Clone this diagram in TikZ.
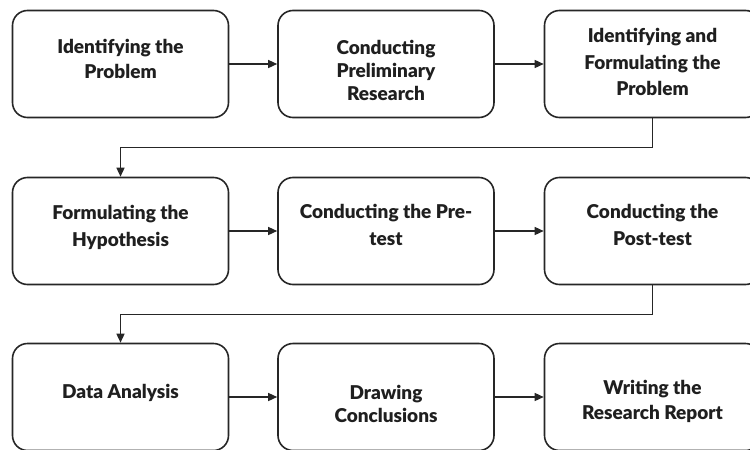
\documentclass[tikz,border=0pt]{standalone}
\usepackage{fontspec}
\setmainfont{Lato}[UprightFont=* Bold]
\usetikzlibrary{arrows.meta,positioning}
\tikzset{
  stepbox/.style={draw=black!85, line width=1.6pt, rounded corners=15pt, minimum width=216pt, minimum height=107pt, inner sep=0pt},
  steptext/.style={align=center, font=\fontsize{19}{25.5}\selectfont\bfseries, text=black!88, inner sep=0pt, text depth=12pt},
  flow/.style={line width=1.4pt, draw=black!85, -{Triangle[length=9pt,width=8pt]}}
}
\begin{document}
\begin{tikzpicture}[x=1pt,y=-1pt]
\useasboundingbox (0,0) rectangle (750,450);
\clip (0,0) rectangle (750,450);
\node[stepbox] (b1) at (120.5,64) {};
\node[stepbox] (b2) at (386,64) {};
\node[stepbox] (b3) at (652.5,64) {};
\node[stepbox] (b4) at (120.5,231) {};
\node[stepbox] (b5) at (386,231) {};
\node[stepbox] (b6) at (652.5,231) {};
\node[stepbox] (b7) at (120.5,397) {};
\node[stepbox] (b8) at (386,397) {};
\node[stepbox] (b9) at (652.5,397) {};
\node[steptext] (t1) at ([yshift=-1pt]b1.center) {Identifying the\\Problem};
\node[steptext, font=\fontsize{19}{23}\selectfont\bfseries] (t2) at ([yshift=-12pt]b2.center) {Conducting\\Preliminary\\Research};
\node[steptext, font=\fontsize{19}{26.5}\selectfont\bfseries] (t3) at ([yshift=-4pt]b3.center) {Identifying and\\Formulating the\\Problem};
\node[steptext, font=\fontsize{19}{27}\selectfont\bfseries] (t4) at ([yshift=-1pt]b4.center) {Formulating the\\Hypothesis};
\node[steptext, font=\fontsize{19}{27}\selectfont\bfseries] (t5) at ([yshift=0pt]b5.center) {Conducting the Pre-\\test};
\node[steptext, font=\fontsize{19}{27}\selectfont\bfseries] (t6) at ([yshift=0pt]b6.center) {Conducting the\\Post-test};
\node[steptext] (t7) at (b7.center) {Data Analysis};
\node[steptext, font=\fontsize{19}{23}\selectfont\bfseries] (t8) at ([yshift=-13pt]b8.center) {Drawing\\Conclusions};
\node[steptext] (t9) at ([yshift=-9pt]b9.center) {Writing the\\Research Report};
\draw[flow] (b1) -- (b2);
\draw[flow] (b2) -- (b3);
\draw[flow] (b4) -- (b5);
\draw[flow] (b5) -- (b6);
\draw[flow] (b7) -- (b8);
\draw[flow] (b8) -- (b9);
\draw[flow] (b3.south) -- ++(0,29) -| (b4.north);
\draw[flow] (b6.south) -- ++(0,29) -| (b7.north);
\end{tikzpicture}
\end{document}
